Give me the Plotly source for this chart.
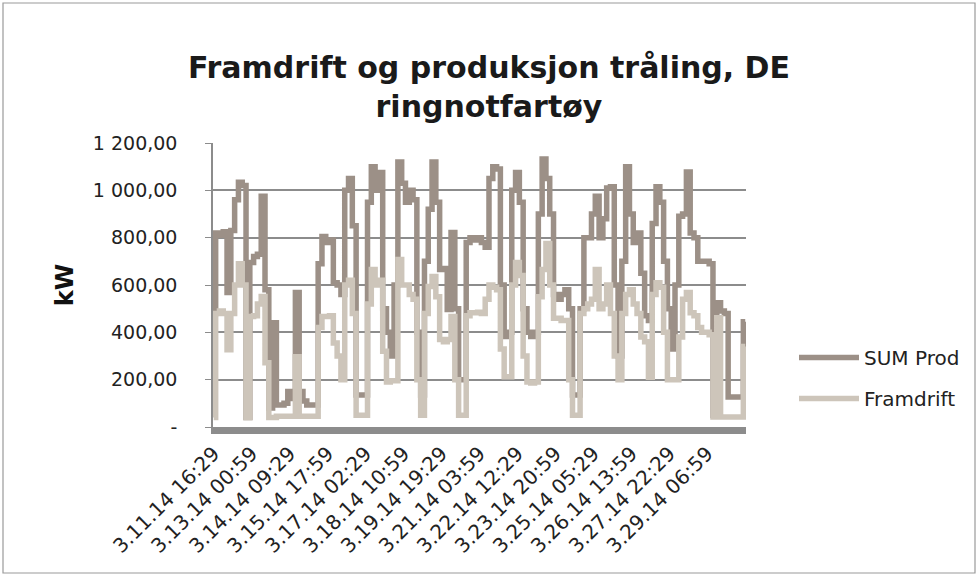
import plotly.graph_objects as go

tick_labels = ["3.11.14 16:29", "3.13.14 00:59", "3.14.14 09:29", "3.15.14 17:59",
               "3.17.14 02:29", "3.18.14 10:59", "3.19.14 19:29", "3.21.14 03:59",
               "3.22.14 12:29", "3.23.14 20:59", "3.25.14 05:29", "3.26.14 13:59",
               "3.27.14 22:29", "3.29.14 06:59"]
points_per_label = 10

sum_prod = [
    480, 820, 810, 825, 568, 830, 960, 1034, 1020, 40,
    695, 720, 730, 975, 580, 80, 440, 93, 93, 100,
    150, 120, 568, 150, 110, 93, 93, 93, 690, 805,
    780, 790, 610, 600, 560, 1000, 1050, 850, 135, 135,
    135, 950, 1100, 1000, 1075, 500, 400, 300, 600, 1120,
    1030, 950, 1000, 960, 400, 135, 700, 920, 1120, 950,
    666, 670, 496, 822, 500, 200, 200, 780, 800, 790,
    800, 780, 760, 1050, 1100, 1090, 600, 382, 400, 1000,
    1075, 950, 500, 400, 382, 400, 900, 1132, 1050, 900,
    560, 540, 560, 580, 500, 135, 135, 500, 800, 800,
    900, 975, 800, 880, 1010, 1015, 600, 300, 700, 1100,
    900, 780, 820, 650, 470, 450, 860, 1015, 950, 700,
    500, 330, 600, 890, 900, 1077, 820, 800, 700, 700,
    700, 690, 50, 525, 490, 480, 127, 127, 127, 127,
    445,
]

framdrift = [
    40, 480, 490, 480, 326, 480, 600, 690, 600, 40,
    467, 470, 520, 551, 271, 40, 40, 45, 45, 45,
    45, 45, 297, 45, 45, 45, 45, 45, 420, 467,
    467, 470, 355, 300, 200, 600, 620, 480, 50, 50,
    50, 520, 665, 600, 620, 320, 190, 195, 195, 708,
    600, 600, 560, 540, 200, 50, 480, 594, 636, 550,
    370, 360, 370, 467, 200, 50, 50, 470, 483, 483,
    485, 480, 540, 600, 590, 580, 330, 212, 212, 600,
    695, 640, 300, 190, 186, 190, 550, 666, 775, 600,
    460, 460, 450, 450, 200, 50, 50, 480, 500, 520,
    540, 666, 500, 520, 600, 480, 300, 200, 480, 560,
    580, 520, 480, 380, 360, 210, 560, 610, 590, 400,
    200, 200, 200, 380, 540, 568, 483, 470, 420, 400,
    400, 390, 42, 462, 42, 42, 42, 42, 42, 42,
    340,
]

y_tick_vals = [0, 200, 400, 600, 800, 1000, 1200]
y_tick_text = ["-", "200,00", "400,00", "600,00", "800,00", "1 000,00", "1 200,00"]

x = list(range(len(sum_prod)))
tick_positions = [i * points_per_label for i in range(len(tick_labels))]

DARK = "#9c9087"
LIGHT = "#cdc5ba"
FONT = "DejaVu Sans"

fig = go.Figure()
fig.add_trace(go.Scatter(x=x, y=sum_prod, mode="lines", name="SUM Prod",
                         line=dict(color=DARK, width=5.5, shape="hvh"), legendgroup="a"))
fig.add_trace(go.Scatter(x=x, y=framdrift, mode="lines", name="Framdrift",
                         line=dict(color=LIGHT, width=5.5, shape="hvh"), legendgroup="b"))

L, R, T, B = 213, 232, 143, 149
W, H = 978, 576
pw, ph = W - L - R, H - T - B

fig.update_layout(
    width=W, height=H,
    margin=dict(l=L, r=R, t=T, b=B, autoexpand=False),
    paper_bgcolor="white", plot_bgcolor="white",
    font=dict(family=FONT, color="#222222", size=19),
    title=dict(text="<b>Framdrift og produksjon tråling, DE<br>ringnotfartøy</b>",
               x=0.5, xanchor="center", y=1 - 78 / H, yanchor="middle",
               font=dict(size=30, color="#1a1a1a", family=FONT)),
    showlegend=True,
    legend=dict(x=(794 - L) / pw, y=(427 - 338) / ph, xanchor="left", yanchor="top",
                font=dict(size=20, color="#222222"), itemwidth=60,
                traceorder="grouped", tracegroupgap=12, bgcolor="rgba(0,0,0,0)"),
    xaxis=dict(range=[-0.2, len(sum_prod) - 1 + 0.2], tickmode="array",
               tickvals=tick_positions, ticktext=tick_labels, tickangle=-45,
               showgrid=False, zeroline=False, showline=True, linecolor="#8c8c8c",
               linewidth=7, ticks="", tickfont=dict(size=20, color="#222222")),
    yaxis=dict(range=[0, 1200], tickmode="array", tickvals=y_tick_vals,
               ticktext=y_tick_text, showgrid=True, gridcolor="#8c8c8c", gridwidth=1.5,
               zeroline=False, showline=True, linecolor="#8c8c8c", linewidth=1.5,
               ticks="outside", ticklen=6, tickcolor="#8c8c8c", ticklabelstandoff=24,
               tickfont=dict(size=19, color="#222222"),
               title=dict(text="<b>kW</b>", font=dict(size=24, color="#111111"), standoff=12)),
)

fig.add_shape(type="rect", xref="paper", yref="paper",
              x0=(3 - L) / pw, x1=(975 - L) / pw, y0=(427 - 573) / ph, y1=(427 - 3) / ph,
              line=dict(color="#9a9a9a", width=1.2), fillcolor="rgba(0,0,0,0)", layer="below")

fig.write_html("out.html", config={"displayModeBar": False},
               post_script="document.body.style.margin='0';")
